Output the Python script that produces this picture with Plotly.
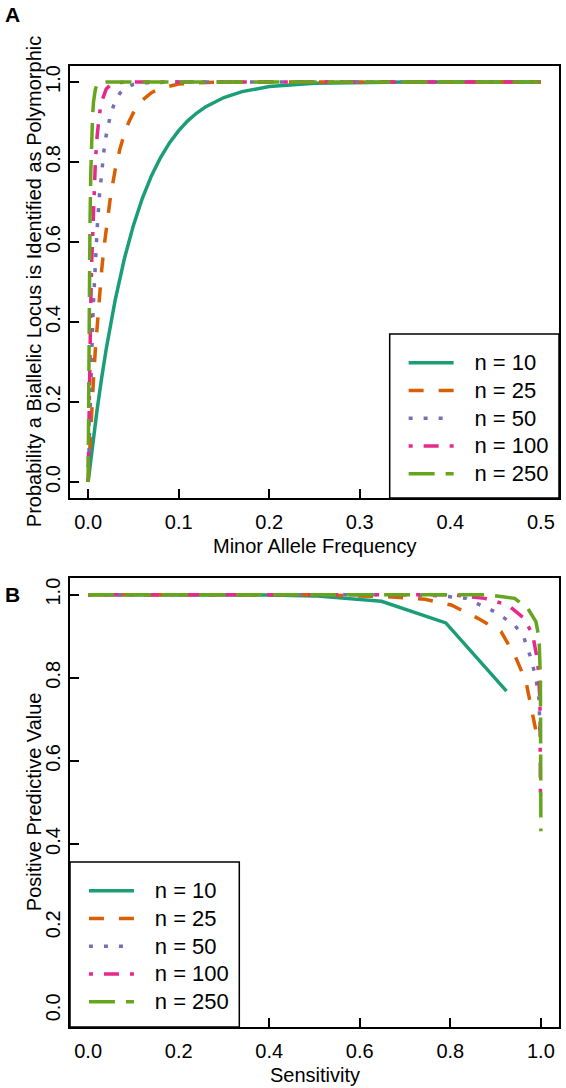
import plotly.graph_objects as go

# ---------------- data ----------------
series_names = ["n = 10", "n = 25", "n = 50", "n = 100", "n = 250"]
colors = ["#1B9E77", "#D95F02", "#7570B3", "#E7298A", "#66A61E"]
dashes = ["solid", "15px,15px", "4px,11px", "4px,11px,15px,11px", "26px,11px"]

# Panel A: minor allele frequency vs probability identified as polymorphic
maf_10 = [0, 0.001, 0.002, 0.003, 0.005, 0.0075, 0.01, 0.015, 0.02, 0.03, 0.04, 0.05, 0.06, 0.07,
          0.08, 0.09, 0.1, 0.11, 0.12, 0.13, 0.14, 0.15, 0.17, 0.2, 0.25, 0.3, 0.35, 0.4, 0.5]
prob_10 = [0, 0.0198, 0.0393, 0.0583, 0.0954, 0.1398, 0.1821, 0.2609, 0.3324, 0.4562, 0.558, 0.6415,
           0.7099, 0.7658, 0.8113, 0.8484, 0.8784, 0.9028, 0.9224, 0.9383, 0.951, 0.9612, 0.9759,
           0.9885, 0.9968, 0.9992, 0.9998, 1.0, 1.0]
maf_25 = [0, 0.001, 0.002, 0.004, 0.006, 0.008, 0.01, 0.0125, 0.015, 0.0175, 0.02, 0.025, 0.03, 0.035,
          0.04, 0.045, 0.05, 0.06, 0.07, 0.08, 0.1, 0.12, 0.15, 0.2, 0.5]
prob_25 = [0, 0.0488, 0.0953, 0.1816, 0.2598, 0.3307, 0.395, 0.4668, 0.5303, 0.5864, 0.6358, 0.718,
           0.7819, 0.8316, 0.8701, 0.9, 0.9231, 0.9547, 0.9734, 0.9845, 0.9948, 0.9983, 0.9997, 1.0, 1.0]
maf_50 = [0, 0.001, 0.002, 0.003, 0.004, 0.005, 0.006, 0.008, 0.01, 0.0125, 0.015, 0.0175, 0.02, 0.025,
          0.03, 0.035, 0.04, 0.05, 0.06, 0.08, 0.1, 0.5]
prob_50 = [0, 0.0952, 0.1814, 0.2595, 0.3302, 0.3942, 0.4522, 0.5521, 0.634, 0.7157, 0.7794, 0.8289,
           0.8674, 0.9205, 0.9524, 0.9716, 0.9831, 0.9941, 0.9979, 0.9998, 1.0, 1.0]
maf_100 = [0, 0.0005, 0.001, 0.0015, 0.002, 0.003, 0.004, 0.005, 0.006, 0.008, 0.01, 0.0125, 0.015,
           0.0175, 0.02, 0.025, 0.03, 0.04, 0.05, 0.5]
prob_100 = [0, 0.0952, 0.1814, 0.2593, 0.3299, 0.4517, 0.5514, 0.633, 0.6999, 0.7994, 0.866, 0.9192,
            0.9513, 0.9707, 0.9824, 0.9937, 0.9977, 0.9997, 1.0, 1.0]
maf_250 = [0, 0.0002, 0.0005, 0.001, 0.0015, 0.002, 0.003, 0.004, 0.005, 0.006, 0.008, 0.01, 0.0125,
           0.015, 0.02, 0.5]
prob_250 = [0, 0.0952, 0.2213, 0.3936, 0.5279, 0.6325, 0.7774, 0.8652, 0.9184, 0.9507, 0.982, 0.9934,
            0.9981, 0.9995, 1.0, 1.0]

# Panel B: sensitivity vs positive predictive value
sens_10 = [0.0, 0.14, 0.28, 0.4, 0.5, 0.648, 0.79, 0.924]
ppv_10 = [1.0, 1.0, 1.0, 0.999, 0.997, 0.984, 0.932, 0.768]
sens_25 = [0.0, 0.3, 0.5, 0.659, 0.744, 0.802, 0.861, 0.912, 0.942, 0.967, 0.978, 0.993]
ppv_25 = [1.0, 1.0, 1.0, 0.995, 0.989, 0.975, 0.943, 0.911, 0.855, 0.791, 0.727, 0.651]
sens_50 = [0.0, 0.5, 0.7, 0.78, 0.835, 0.898, 0.942, 0.963, 0.978, 0.989, 0.996, 0.998]
ppv_50 = [1.0, 1.0, 1.0, 0.997, 0.991, 0.959, 0.927, 0.895, 0.847, 0.799, 0.747, 0.665]
sens_100 = [0.0, 0.6, 0.8, 0.876, 0.927, 0.963, 0.982, 0.993, 0.998, 0.999]
ppv_100 = [1.0, 1.0, 1.0, 0.991, 0.975, 0.943, 0.903, 0.839, 0.747, 0.50]
sens_250 = [0.0, 0.7, 0.88, 0.942, 0.971, 0.989, 0.996, 0.999, 1.0]
ppv_250 = [1.0, 1.0, 1.0, 0.991, 0.967, 0.935, 0.895, 0.795, 0.431]

panelA = [(maf_10, prob_10), (maf_25, prob_25), (maf_50, prob_50), (maf_100, prob_100), (maf_250, prob_250)]
panelB = [(sens_10, ppv_10), (sens_25, ppv_25), (sens_50, ppv_50), (sens_100, ppv_100), (sens_250, ppv_250)]

xA_ticks = [0.0, 0.1, 0.2, 0.3, 0.4, 0.5]
xB_ticks = [0.0, 0.2, 0.4, 0.6, 0.8, 1.0]
y_ticks = [0.0, 0.2, 0.4, 0.6, 0.8, 1.0]

# ---------------- figure ----------------
FONT = "Liberation Sans, Arial, Helvetica, sans-serif"
W, H = 566, 1088
ML, MR, MT, MB = 70, 5, 66, 61
PW, PH = W - ML - MR, H - MT - MB


def px_x(p):
    return (p - ML) / PW


def px_y(p):
    return (H - MB - p) / PH


def legend_label(name):
    return '\u00a0\u00a0\u00a0<span style="font-size:22px">%s</span>' % name


fig = go.Figure()
LW = 3.5
for i, (xs, ys) in enumerate(panelA):
    fig.add_trace(go.Scatter(x=xs, y=ys, mode="lines", name=legend_label(series_names[i]),
                             line=dict(color=colors[i], width=LW, dash=dashes[i]),
                             xaxis="x", yaxis="y", legend="legend", hoverinfo="skip"))
for i, (xs, ys) in enumerate(panelB):
    fig.add_trace(go.Scatter(x=xs, y=ys, mode="lines", name=legend_label(series_names[i]),
                             line=dict(color=colors[i], width=LW, dash=dashes[i]),
                             xaxis="x2", yaxis="y2", legend="legend2", hoverinfo="skip"))

axis_common = dict(showline=True, mirror=True, linecolor="black", linewidth=1.5,
                   ticks="inside", ticklen=9, tickwidth=1.5, tickcolor="black",
                   showgrid=False, zeroline=False, tickformat=".1f",
                   tickfont=dict(family=FONT, size=20, color="black"))

domA = [px_y(498), 1.0]
domB = [0.0, px_y(578)]

fig.update_layout(
    width=W, height=H,
    margin=dict(l=ML, r=MR, t=MT, b=MB, pad=0),
    paper_bgcolor="white", plot_bgcolor="white",
    font=dict(family=FONT, size=20, color="black"),
    xaxis=dict(domain=[0, 1], anchor="y", range=[-0.02, 0.52], tickvals=xA_ticks,
               ticklabelstandoff=5, **axis_common),
    yaxis=dict(domain=domA, anchor="x", range=[-0.04, 1.04], tickvals=y_ticks, tickangle=-90, **axis_common),
    xaxis2=dict(domain=[0, 1], anchor="y2", range=[-0.04, 1.04], tickvals=xB_ticks,
                ticklabelstandoff=5, **axis_common),
    yaxis2=dict(domain=domB, anchor="x2", range=[-0.04, 1.04], tickvals=y_ticks, tickangle=-90, **axis_common),
    legend=dict(x=px_x(405), y=px_y(344), xanchor="left", yanchor="top",
                bgcolor="rgba(0,0,0,0)", borderwidth=0, itemwidth=45,
                font=dict(family=FONT, size=19, color="black")),
    legend2=dict(x=px_x(84), y=px_y(872), xanchor="left", yanchor="top",
                 bgcolor="rgba(0,0,0,0)", borderwidth=0, itemwidth=45,
                 font=dict(family=FONT, size=19, color="black")),
    showlegend=True,
)

# legend boxes
fig.add_shape(type="rect", xref="paper", yref="paper", x0=px_x(391), x1=1.0, y0=px_y(498), y1=px_y(334),
              line=dict(color="black", width=1.5), fillcolor="white", layer="above")
fig.add_shape(type="rect", xref="paper", yref="paper", x0=0.0, x1=px_x(240), y0=0.0, y1=px_y(862),
              line=dict(color="black", width=1.5), fillcolor="white", layer="above")

ann = [
    dict(text="Minor Allele Frequency", x=0.5, y=px_y(546), xanchor="center", yanchor="middle"),
    dict(text="Sensitivity", x=0.5, y=px_y(1075), xanchor="center", yanchor="middle"),
    dict(text="Probability a Biallelic Locus is Identified as Polymorphic", x=px_x(34), y=px_y(282),
         xanchor="center", yanchor="middle", textangle=-90),
    dict(text="Positive Predictive Value", x=px_x(34), y=px_y(802), xanchor="center", yanchor="middle",
         textangle=-90),
]
for a in ann:
    fig.add_annotation(xref="paper", yref="paper", showarrow=False,
                       font=dict(family=FONT, size=20, color="black"), **a)

for lab, py in [("A", 14), ("B", 594)]:
    fig.add_annotation(text="<b>%s</b>" % lab, xref="paper", yref="paper", x=px_x(3), y=px_y(py),
                       xanchor="left", yanchor="middle", showarrow=False,
                       font=dict(family=FONT, size=21, color="black"))

fig.write_html("out.html", config={"displayModeBar": False},
               post_script="document.body.style.margin='0px';document.body.style.overflow='hidden';")
